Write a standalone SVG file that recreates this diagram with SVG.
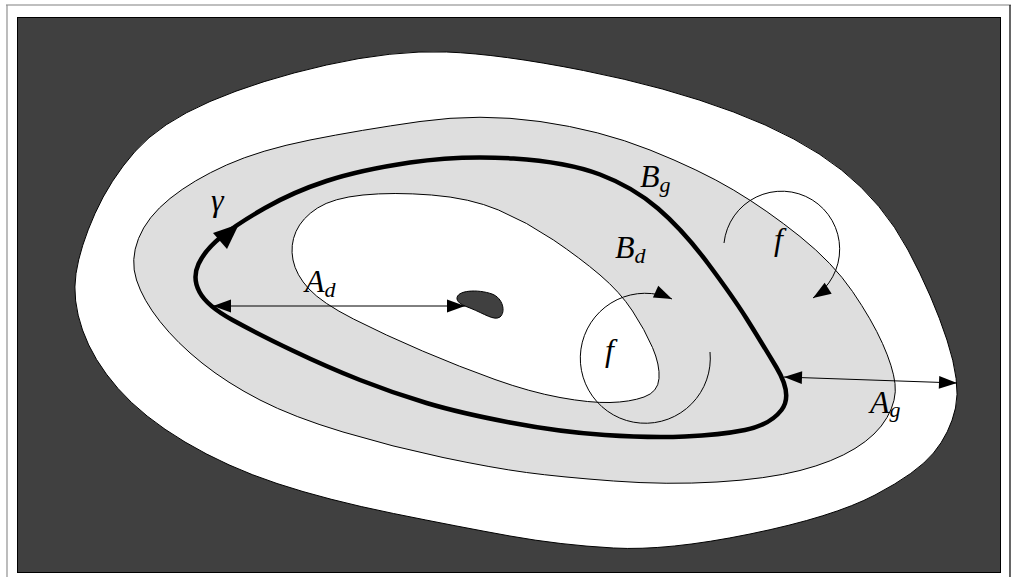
<svg xmlns="http://www.w3.org/2000/svg" width="1011" height="577" viewBox="0 0 1011 577">
<style>
.thin{fill:none;stroke:#000;stroke-width:1}
.lbl{font-family:"Liberation Serif","Times New Roman",serif;font-style:italic;font-size:32px;fill:#000}
.sub{font-size:22px}
</style>
<defs>
<marker id="ah" markerUnits="userSpaceOnUse" markerWidth="20" markerHeight="14" refX="18" refY="7" orient="auto-start-reverse" overflow="visible">
<path d="M0,0.5 L18,7 L0,13.5 Z" fill="#000"/>
</marker>
</defs>
<g id="frame">
<line x1="6" y1="5" x2="1011" y2="5" stroke="#808080" stroke-width="1.2"/>
<line x1="7" y1="5" x2="7" y2="577" stroke="#909090" stroke-width="1.2"/>
<line x1="1010" y1="5" x2="1010" y2="577" stroke="#000" stroke-width="1.2"/>
<rect x="17.5" y="17.5" width="983" height="555" fill="#404040" stroke="#000" stroke-width="1"/>
</g>
<g id="outer-region">
<path d="M326.5,65 Q393,50 446.5,52 Q500,54 583.5,70.5 Q667,87 733.5,112 Q800,137 841.5,170 Q883,203 908,250 Q933,297 947,340 Q961,383 955.5,408 Q950,433 933.5,453 Q917,473 875,495 Q833,517 750,534 Q667,551 613.5,548 Q560,545 510,536 Q460,527 393.5,513.5 Q327,500 277,483.5 Q227,467 185,442 Q143,417 118,388.5 Q93,360 82.5,330 Q72,300 76,273.5 Q80,247 95,213.5 Q110,180 135,151.5 Q160,123 210,101.5 Q260,80 326.5,65 Z" fill="#fff" stroke="#000" stroke-width="1"/>
</g>
<g id="Bg-region">
<path d="M310,140 Q360,130 420,121.5 Q480,113 540,121.5 Q600,130 650,150 Q700,170 733.5,190 Q767,210 800,236.5 Q833,263 852.5,291.5 Q872,320 882.5,343.5 Q893,367 895,383.5 Q897,400 887,417.5 Q877,435 855,448.5 Q833,462 800,470.5 Q767,479 717,482 Q667,485 613.5,481 Q560,477 526.5,472.5 Q493,468 443,457.5 Q393,447 343,432 Q293,417 260,400 Q227,383 202,363 Q177,343 160,321.5 Q143,300 136.5,280 Q130,260 138.5,238.5 Q147,217 170,198.5 Q193,180 226.5,165 Q260,150 310,140 Z" fill="#dedede" stroke="#000" stroke-width="1"/>
</g>
<g id="Bd-region">
<path d="M363,195 Q393,192 431.5,195 Q470,198 498.5,210 Q527,222 553.5,240 Q580,258 600,275 Q620,292 632.5,311 Q645,330 652.5,347.5 Q660,365 659,378.5 Q658,392 644,397 Q630,402 610,402.5 Q590,403 560,397.5 Q530,392 495,379.5 Q460,367 422.5,351 Q385,335 353.5,319 Q322,303 309,289 Q296,275 293,260 Q290,245 296,231.5 Q302,218 317.5,208 Q333,198 363,195 Z" fill="#fff" stroke="#000" stroke-width="1"/>
</g>
<g id="gamma">
<path d="M410,162.5 Q460,155 513.5,158.5 Q567,162 600,174.5 Q633,187 658,208.5 Q683,230 708,263.5 Q733,297 746.5,318.5 Q760,340 776.5,367.5 Q793,395 781.5,410 Q770,425 745,430 Q720,435 685,436.5 Q650,438 605,435 Q560,432 510,422.5 Q460,413 426.5,403 Q393,393 360,380 Q327,367 292.5,350.5 Q258,334 232.5,320 Q207,306 199.5,292 Q192,278 198.5,264 Q205,250 221,237 Q237,224 265,208 Q293,192 326.5,181 Q360,170 410,162.5 Z" fill="none" stroke="#000" stroke-width="4.5" stroke-linejoin="round"/>
<polygon points="239,224 227,249 213,233" fill="#000"/>
</g>
<g id="core">
<path d="M457,299 C456,290 478,289 492,294 C503,298 506,312 500,317 C494,321 485,314 470,308 C462,305 458,303 457,299 Z" fill="#404040" stroke="#000" stroke-width="1"/>
</g>
<g id="connectors">
<line class="thin" x1="213" y1="306" x2="465" y2="306" marker-start="url(#ah)" marker-end="url(#ah)"/>
<line class="thin" x1="784" y1="377" x2="957" y2="383" marker-start="url(#ah)" marker-end="url(#ah)"/>
<path class="thin" d="M710,352 A65,65 0 1 1 672,299" marker-end="url(#ah)"/>
<path class="thin" d="M724,243 A58,58 0 1 1 813,298" marker-end="url(#ah)"/>
</g>
<g id="labels">
<text class="lbl" x="211" y="211">γ</text>
<text class="lbl" x="305" y="292">A<tspan class="sub" dy="5">d</tspan></text>
<text class="lbl" x="640" y="187">B<tspan class="sub" dy="5">g</tspan></text>
<text class="lbl" x="615" y="258">B<tspan class="sub" dy="5">d</tspan></text>
<text class="lbl" x="774" y="250">f</text>
<text class="lbl" x="605" y="361">f</text>
<text class="lbl" x="870" y="413">A<tspan class="sub" dy="4">g</tspan></text>
</g>
</svg>
